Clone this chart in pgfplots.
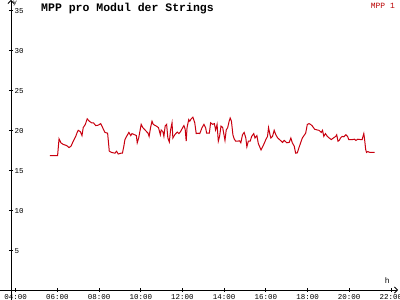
\documentclass[border=0pt]{standalone}
\usepackage{pgfplots}
\pgfplotsset{compat=1.18}
\usepackage{fontspec}
\setmainfont{Liberation Mono}
\usetikzlibrary{arrows.meta}
\definecolor{mpp}{RGB}{200,0,15}
\definecolor{legred}{RGB}{185,0,0}
\begin{document}
\begin{tikzpicture}
\begin{axis}[
  scale only axis, width=387bp, height=300bp,
  anchor=south west, at={(11bp,0bp)},
  xmin=3.775, xmax=22.34, ymin=-1.25, ymax=36.25,
  axis x line=middle, axis y line=left,
  axis line style={line width=0.8bp,-{Straight Barb[length=3bp,width=6bp]}},
  tick style={black,line width=0.8bp}, major tick length=4bp,
  xtick={4,6,...,22},
  xticklabels={04:00,06:00,08:00,10:00,12:00,14:00,16:00,18:00,20:00,22:00},
  ytick={5,10,...,35},
  /pgf/number format/assume math mode=true,
  tick label style={font=\fontsize{7.5bp}{8bp}\selectfont},
  yticklabel style={anchor=west, xshift=2bp, yshift=-1bp},
  xticklabel style={anchor=north, yshift=1bp},
  xlabel={h}, ylabel={y},
  every axis x label/.style={at={(axis cs:21.83,0)}, anchor=south, yshift=3bp, font=\fontsize{8bp}{9bp}\selectfont},
  every axis y label/.style={at={(axis description cs:0,1)}, anchor=north west, xshift=1.5bp, yshift=-0.5bp, inner sep=0.5bp, font=\fontsize{6.5bp}{7bp}\selectfont},
  title={\bfseries MPP pro Modul der Strings},
  every axis title/.style={at={(axis description cs:0.075,1)}, anchor=north west, yshift=-2bp, inner sep=1bp, font=\fontsize{11.5bp}{12bp}\selectfont},
  legend style={draw=none, fill=none, at={(axis description cs:1,1)}, anchor=north east, font=\fontsize{8bp}{9bp}\selectfont, text=legred, inner sep=1bp},
  legend image code/.code={},
  clip=false,
]
\addplot[mpp, line width=1bp] coordinates {
(5.645,16.8) (6.01,16.8) (6.08,18.9) (6.17,18.4) (6.28,18.2) (6.44,18.06) (6.56,17.8) (6.66,18.0) (6.76,18.6) (6.88,19.2)
(6.95,19.7) (7.0,19.96) (7.1,19.8) (7.18,19.3) (7.24,20.3) (7.34,20.7) (7.43,21.4) (7.53,21.1) (7.64,20.9) (7.73,20.9)
(7.84,20.55) (7.96,20.6) (8.08,20.8) (8.17,20.3) (8.28,19.7) (8.41,19.6) (8.49,17.35) (8.6,17.2) (8.76,17.1) (8.84,17.35)
(8.92,17.0) (9.05,17.1) (9.12,17.1) (9.19,18.0) (9.24,18.8) (9.32,19.2) (9.43,19.7) (9.52,19.3) (9.58,19.55) (9.71,19.4)
(9.79,19.3) (9.83,18.4) (9.9,19.0) (10.02,20.7) (10.1,20.3) (10.22,19.96) (10.35,19.6) (10.4,19.2) (10.47,20.3) (10.54,21.1)
(10.6,20.7) (10.74,20.5) (10.85,20.3) (10.94,19.4) (10.98,20.0) (11.06,19.8) (11.11,19.2) (11.17,20.5) (11.24,20.7) (11.3,19.0)
(11.37,18.5) (11.43,20.0) (11.5,20.9) (11.54,19.0) (11.63,19.4) (11.75,19.75) (11.83,19.55) (11.91,19.8) (12.01,20.3) (12.07,20.55)
(12.13,20.1) (12.18,18.6) (12.22,20.3) (12.3,21.3) (12.35,21.1) (12.42,21.4) (12.5,21.6) (12.59,20.9) (12.66,19.55) (12.75,19.6)
(12.83,19.55) (12.94,20.3) (13.03,20.7) (13.11,20.3) (13.16,19.6) (13.29,19.6) (13.35,20.9) (13.45,20.7) (13.53,20.8) (13.59,20.0)
(13.66,20.7) (13.72,18.6) (13.78,19.2) (13.85,20.5) (13.93,20.3) (14.04,18.7) (14.1,20.0) (14.17,20.3) (14.24,21.1) (14.29,21.5)
(14.35,21.1) (14.42,19.4) (14.48,18.9) (14.55,18.6) (14.64,18.6) (14.74,18.65) (14.8,18.4) (14.88,19.4) (14.96,19.7) (15.04,19.0)
(15.09,17.9) (15.16,18.6) (15.25,18.6) (15.32,19.2) (15.42,19.55) (15.48,19.0) (15.57,19.3) (15.64,18.3) (15.77,17.5) (15.9,18.2)
(16.0,18.8) (16.08,19.2) (16.13,20.3) (16.2,19.4) (16.24,19.0) (16.32,19.2) (16.4,19.96) (16.48,19.4) (16.57,19.0) (16.7,18.7)
(16.8,18.45) (16.88,18.7) (17.01,18.4) (17.12,18.45) (17.2,19.0) (17.27,18.4) (17.36,18.0) (17.43,17.1) (17.51,17.15) (17.59,17.8)
(17.67,18.4) (17.75,19.0) (17.83,19.3) (17.91,19.6) (17.99,20.7) (18.07,20.8) (18.15,20.7) (18.23,20.5) (18.34,20.1) (18.47,20.0)
(18.55,19.96) (18.66,19.7) (18.72,19.96) (18.78,19.2) (18.86,19.55) (18.95,19.2) (19.04,19.0) (19.14,18.8) (19.24,19.0) (19.35,19.2)
(19.4,19.4) (19.46,18.6) (19.52,18.7) (19.58,19.0) (19.66,19.2) (19.74,19.15) (19.84,19.4) (19.92,19.2) (19.98,18.8) (20.14,18.8)
(20.25,18.85) (20.32,18.7) (20.41,18.85) (20.54,18.8) (20.62,18.8) (20.67,19.3) (20.7,19.55) (20.73,19.0) (20.79,17.55) (20.83,17.2)
(20.89,17.3) (20.99,17.2) (21.22,17.2)
};
\addlegendentry{MPP 1}
\end{axis}
\draw[line width=0.8bp] (0bp,10bp) -- (11bp,10bp);
\pgfresetboundingbox
\useasboundingbox (0,0) rectangle (400bp,300bp);
\end{tikzpicture}
\end{document}
